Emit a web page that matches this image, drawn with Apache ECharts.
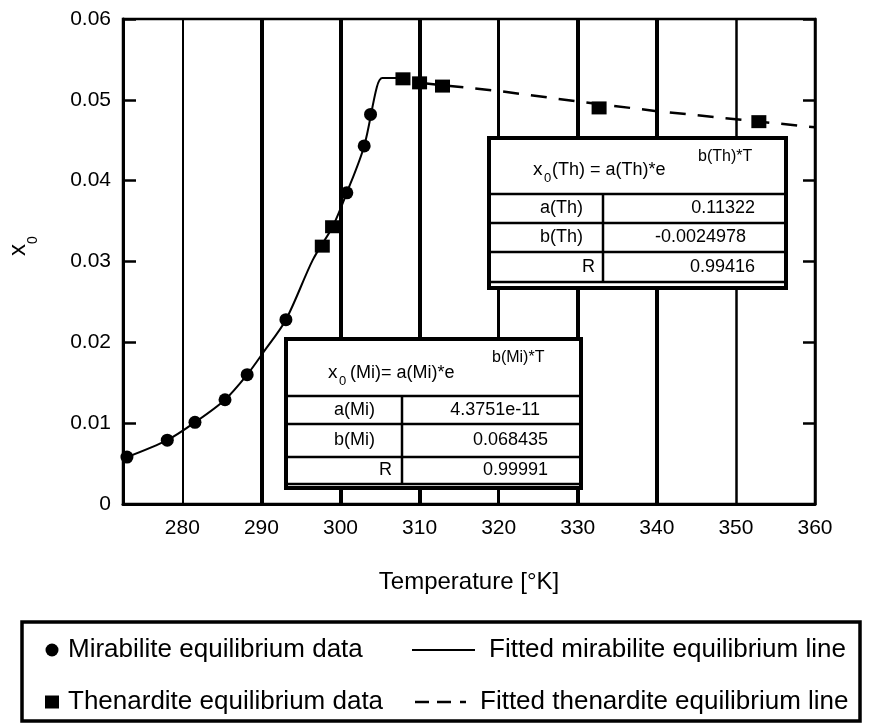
<!DOCTYPE html>
<html><head><meta charset="utf-8">
<script src="https://cdn.jsdelivr.net/npm/echarts@6/dist/echarts.min.js"></script>
<style>html,body{margin:0;padding:0;background:#fff}#c{width:871px;height:725px}</style>
</head><body><div id="c"></div>
<script>
// ---- data ----
const xTickLabels = [280, 290, 300, 310, 320, 330, 340, 350, 360];
const gridLinesT = [280, 290, 300, 310, 320, 330, 340, 350];
const mirabiliteData = [[273.0,0.0058],[278.1,0.0079],[281.6,0.0101],[285.4,0.0129],[288.2,0.0160],[293.1,0.0228],[300.8,0.0385],[303.0,0.0443],[303.8,0.0482]];
const thenarditeData = [[297.7,0.0319],[299.0,0.0343],[307.9,0.0526],[310.0,0.0521],[312.9,0.0517],[332.7,0.0490],[352.9,0.0473]];
const mirabiliteFit = [[273.0,0.0058],[278.1,0.0079],[281.6,0.0101],[285.4,0.0129],[288.2,0.0160],[290.2,0.0187],[293.1,0.0228],[296.5,0.0302],[299.0,0.0343],[300.8,0.0385],[303.0,0.0443],[304.6,0.0516],[305.3,0.0527],[307.9,0.0527]];
const thenarditeFit = [[310.0,0.0521],[313.0,0.0518],[320,0.0511],[330,0.0498],[340,0.0486],[350,0.0476],[360,0.0466]];
const tableThRows = [['a(Th)','0.11322'],['b(Th)','-0.0024978'],['R','0.99416']];
const tableMiRows = [['a(Mi)','4.3751e-11'],['b(Mi)','0.068435'],['R','0.99991']];
const legendData = ['Mirabilite equilibrium data','Thenardite equilibrium data'];
const legendLines = ['Fitted mirabilite equilibrium line','Fitted thenardite equilibrium line'];

const FONT = '"Liberation Sans", Arial, Helvetica, sans-serif';
const gridWidths = {280:2,290:4,300:4,310:4,320:3,330:4,340:4,350:2.5};

function txt(x, y, t, size, align, extra) {
  return Object.assign({type:'text', x:x, y:y, z:101,
    style:{text:t, font: size+'px '+FONT, fill:'#000', textAlign:align||'left', textVerticalAlign:'middle'}}, extra||{});
}
function line(x1,y1,x2,y2,w){ return {type:'line', z:100, shape:{x1,y1,x2,y2}, style:{stroke:'#000', lineWidth:w}}; }

function table(cfg, rows) {
  const els = [];
  els.push({type:'rect', z:99, shape:{x:cfg.x, y:cfg.y, width:cfg.w, height:cfg.h}, style:{fill:'#fff', stroke:'#000', lineWidth:4}});
  els.push(line(cfg.x, cfg.headB, cfg.x+cfg.w, cfg.headB, 2.5));
  cfg.rowB.forEach(yb => els.push(line(cfg.x, yb, cfg.x+cfg.w, yb, 2.5)));
  els.push(line(cfg.colX, cfg.headB, cfg.colX, cfg.rowB[cfg.rowB.length-1], 2.5));
  els.push(txt(cfg.hx, cfg.hy, 'x', 19, 'left'));
  els.push(txt(cfg.hx+11, cfg.hy+8, '0', 13, 'left'));
  els.push(txt(cfg.hx+cfg.hRestDx, cfg.hy, cfg.hRest, 18, 'left'));
  els.push(txt(cfg.supX, cfg.supY, cfg.sup, 16, 'left'));
  let top = cfg.headB;
  rows.forEach((r, i) => {
    const yb = cfg.rowB[i];
    const cy = (top + yb) / 2;
    els.push(txt(cfg.labX[i], cy, r[0], 18, 'right'));
    els.push(txt(cfg.valX[i], cy, r[1], 18, 'right'));
    top = yb;
  });
  return els;
}

const thEls = table({x:489, y:138, w:297, h:150, headB:194, rowB:[223,252,282], colX:603,
  hx:533, hy:170, hRestDx:19, hRest:'(Th) = a(Th)*e', supX:698, supY:157, sup:'b(Th)*T',
  labX:[583,583,595], valX:[755,746,755]}, tableThRows);
const miEls = table({x:286, y:339, w:295, h:149, headB:396, rowB:[424,457,484], colX:402,
  hx:328, hy:373, hRestDx:22, hRest:'(Mi)= a(Mi)*e', supX:492, supY:358, sup:'b(Mi)*T',
  labX:[375,375,392], valX:[540,548,548]}, tableMiRows);

const graphics = [].concat(thEls, miEls, [
  {type:'text', x:18, y:250, rotation:Math.PI/2, z:101, style:{text:'x', font:'24px '+FONT, fill:'#000', textAlign:'center', textVerticalAlign:'middle'}},
  {type:'text', x:33, y:240, rotation:Math.PI/2, z:101, style:{text:'0', font:'14px '+FONT, fill:'#000', textAlign:'center', textVerticalAlign:'middle'}},
  {type:'rect', z:98, shape:{x:22, y:622, width:838, height:99}, style:{fill:'none', stroke:'#000', lineWidth:3.5}}
]);

const solidIcon = 'path://M0,0h63v2h-63z';
const dashIcon = 'path://M0,0h14v2.5h-14z M22,0h14v2.5h-14z M45,0h6v2.5h-6z';
const legText = {fontSize:26, lineHeight:26, color:'#000', fontFamily:FONT};

const chart = echarts.init(document.getElementById('c'));
chart.setOption({
  animation:false,
  backgroundColor:'#fff',
  textStyle:{fontFamily:FONT, color:'#000'},
  grid:{left:123, right:56, top:19, bottom:221, show:true, borderColor:'#000', borderWidth:2.5, backgroundColor:'transparent'},
  xAxis:{type:'value', min:272.5, max:360,
    axisLine:{lineStyle:{color:'#000', width:3}},
    axisTick:{show:false}, splitLine:{show:false},
    axisLabel:{customValues:xTickLabels, fontSize:21, color:'#000', margin:14, fontFamily:FONT},
    name:'Temperature [°K]', nameLocation:'middle', nameGap:66, nameTextStyle:{fontSize:24, color:'#000', fontFamily:FONT}},
  yAxis:[
    {type:'value', min:0, max:0.06, interval:0.01, position:'left',
      axisLine:{show:true, lineStyle:{color:'#000', width:3}},
      axisTick:{show:true, inside:true, length:13, lineStyle:{color:'#000', width:2.5}},
      axisLabel:{fontSize:21, color:'#000', margin:12, fontFamily:FONT},
      splitLine:{show:false}},
    {type:'value', min:0, max:0.06, interval:0.01, position:'right',
      axisLine:{show:true, lineStyle:{color:'#000', width:2.5}},
      axisTick:{show:true, inside:true, length:12, lineStyle:{color:'#000', width:2.5}},
      axisLabel:{show:false}, splitLine:{show:false}}
  ],
  legend:[
    {orient:'vertical', left:40, top:632, itemWidth:14, itemHeight:13, itemGap:26, selectedMode:false,
      textStyle:Object.assign({padding:[0,0,0,4]}, legText),
      data:[{name:legendData[0], icon:'circle'},{name:legendData[1], icon:'rect'}]},
    {orient:'vertical', left:407, top:632, itemWidth:63, itemHeight:13, selectedMode:false,
      textStyle:Object.assign({padding:[0,0,0,9]}, legText),
      itemStyle:{color:'#000', borderWidth:0},
      data:[{name:legendLines[0], icon:solidIcon}]},
    {orient:'vertical', left:410, top:684, itemWidth:51, itemHeight:13, selectedMode:false,
      textStyle:Object.assign({padding:[0,0,0,9]}, legText),
      itemStyle:{color:'#000', borderWidth:0},
      data:[{name:legendLines[1], icon:dashIcon}]}
  ],
  graphic:graphics,
  series:[
    {type:'line', name:'grid', data:[], silent:true, z:1,
      markLine:{silent:true, symbol:['none','none'], label:{show:false}, animation:false,
        lineStyle:{color:'#000', type:'solid'},
        data:gridLinesT.map(v => ({xAxis:v, lineStyle:{color:'#000', type:'solid', width:gridWidths[v]}}))}},
    {type:'line', name:legendLines[0], data:mirabiliteFit, smooth:0.3, symbol:'none', showSymbol:false, z:3,
      lineStyle:{color:'#000', width:2}, itemStyle:{color:'#000'}},
    {type:'line', name:legendLines[1], data:thenarditeFit, smooth:false, symbol:'none', showSymbol:false, z:3,
      lineStyle:{color:'#000', width:2.5, type:[16,12]}, itemStyle:{color:'#000'}},
    {type:'scatter', name:legendData[0], data:mirabiliteData, symbol:'circle', symbolSize:13, z:4,
      itemStyle:{color:'#000', opacity:1}},
    {type:'scatter', name:legendData[1], data:thenarditeData, symbol:'rect', symbolSize:[15,13], z:4,
      itemStyle:{color:'#000', opacity:1}}
  ]
});
</script></body></html>
